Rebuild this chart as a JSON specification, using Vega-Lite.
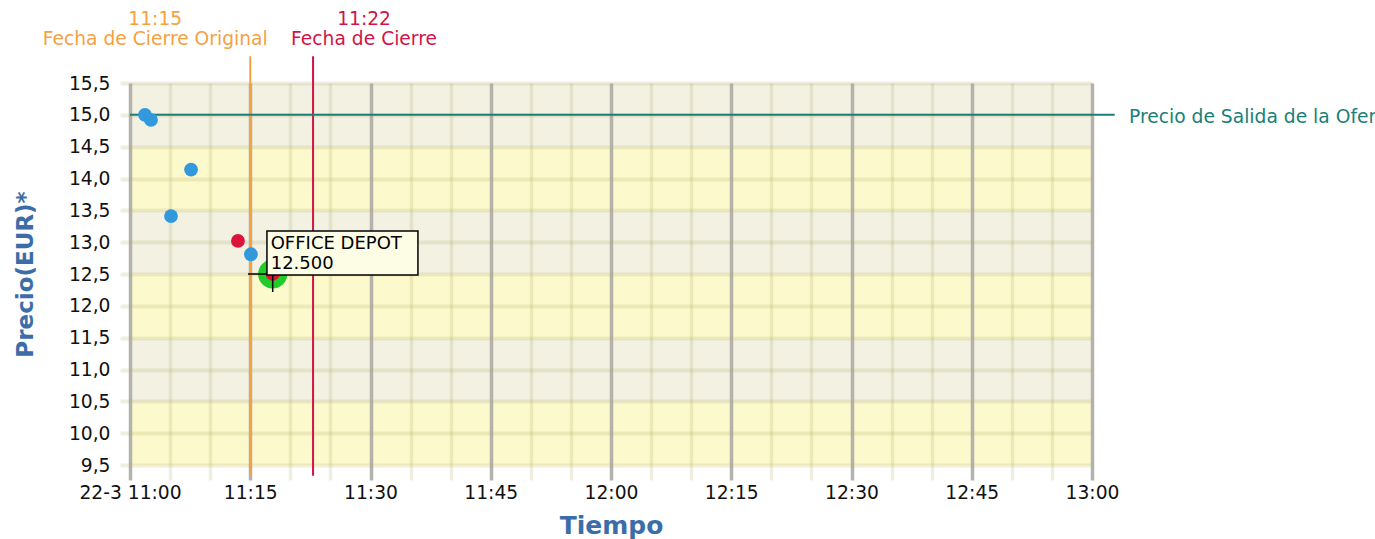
{
  "$schema": "https://vega.github.io/schema/vega-lite/v6.json",
  "width": 962,
  "height": 382,
  "autosize": "none",
  "padding": {"left": 130, "top": 83, "right": 283, "bottom": 74},
  "background": "white",
  "config": {
    "font": "DejaVu Sans",
    "view": {"fill": "#fcf9cc", "stroke": null}
  },
  "datasets": {
    "ofertas": [
      {"hora": "2011-03-22T11:01:52Z", "precio": 15.0, "tipo": "otra", "empresa": "", "destacado": false},
      {"hora": "2011-03-22T11:02:37Z", "precio": 14.92, "tipo": "otra", "empresa": "", "destacado": false},
      {"hora": "2011-03-22T11:05:07Z", "precio": 13.41, "tipo": "otra", "empresa": "", "destacado": false},
      {"hora": "2011-03-22T11:07:37Z", "precio": 14.14, "tipo": "otra", "empresa": "", "destacado": false},
      {"hora": "2011-03-22T11:13:28Z", "precio": 13.02, "tipo": "propia", "empresa": "", "destacado": false},
      {"hora": "2011-03-22T11:15:05Z", "precio": 12.81, "tipo": "otra", "empresa": "", "destacado": false},
      {"hora": "2011-03-22T11:17:48Z", "precio": 12.5, "tipo": "propia", "empresa": "OFFICE DEPOT", "destacado": true}
    ],
    "cierres": [
      {"hora": "2011-03-22T11:15:00Z", "hhmm": "11:15", "etiqueta": "Fecha de Cierre Original", "tipo": "original"},
      {"hora": "2011-03-22T11:22:50Z", "hhmm": "11:22", "etiqueta": "Fecha de Cierre", "tipo": "final"}
    ],
    "uno": [{}]
  },
  "resolve": {"axis": {"x": "independent", "y": "independent"}},
  "layer": [
    {
      "data": {"name": "cierres"},
      "transform": [{"filter": "datum.tipo == 'original'"}],
      "mark": {"type": "rule", "strokeWidth": 2, "color": "#f5a142"},
      "encoding": {
        "x": {"field": "hora", "type": "temporal", "axis": null},
        "y": {"datum": 15.92, "type": "quantitative", "axis": null},
        "y2": {"datum": 9.33}
      }
    },
    {
      "data": {"name": "cierres"},
      "transform": [{"filter": "datum.tipo == 'final'"}],
      "mark": {"type": "rule", "strokeWidth": 2, "color": "#d3124a"},
      "encoding": {
        "x": {"field": "hora", "type": "temporal", "axis": null},
        "y": {"datum": 15.92, "type": "quantitative", "axis": null},
        "y2": {"datum": 9.33}
      }
    },
    {
      "data": {"name": "cierres"},
      "transform": [{"filter": "datum.tipo == 'original'"}],
      "mark": {"type": "text", "align": "center", "baseline": "middle", "fontSize": 18.7, "dx": -95, "dy": -10, "color": "#f5a142"},
      "encoding": {
        "x": {"field": "hora", "type": "temporal", "axis": null},
        "y": {"datum": 16.35, "type": "quantitative", "axis": null},
        "text": {"field": "hhmm"}
      }
    },
    {
      "data": {"name": "cierres"},
      "transform": [{"filter": "datum.tipo == 'original'"}],
      "mark": {"type": "text", "align": "center", "baseline": "middle", "fontSize": 18.7, "dx": -95, "dy": 10, "color": "#f5a142"},
      "encoding": {
        "x": {"field": "hora", "type": "temporal", "axis": null},
        "y": {"datum": 16.35, "type": "quantitative", "axis": null},
        "text": {"field": "etiqueta"}
      }
    },
    {
      "data": {"name": "cierres"},
      "transform": [{"filter": "datum.tipo == 'final'"}],
      "mark": {"type": "text", "align": "center", "baseline": "middle", "fontSize": 18.7, "dx": 51, "dy": -10, "color": "#d3124a"},
      "encoding": {
        "x": {"field": "hora", "type": "temporal", "axis": null},
        "y": {"datum": 16.35, "type": "quantitative", "axis": null},
        "text": {"field": "hhmm"}
      }
    },
    {
      "data": {"name": "cierres"},
      "transform": [{"filter": "datum.tipo == 'final'"}],
      "mark": {"type": "text", "align": "center", "baseline": "middle", "fontSize": 18.7, "dx": 51, "dy": 10, "color": "#d3124a"},
      "encoding": {
        "x": {"field": "hora", "type": "temporal", "axis": null},
        "y": {"datum": 16.35, "type": "quantitative", "axis": null},
        "text": {"field": "etiqueta"}
      }
    },
    {
      "data": {"name": "uno"},
      "mark": {"type": "rule", "strokeWidth": 2, "color": "#1b7f77"},
      "encoding": {
        "x": {"datum": 1300791600000, "type": "temporal", "axis": null},
        "x2": {"datum": 1300798970000},
        "y": {"datum": 15.0, "type": "quantitative", "axis": null}
      }
    },
    {
      "data": {"name": "uno"},
      "mark": {"type": "text", "align": "left", "baseline": "middle", "fontSize": 18.7, "dx": 37, "dy": 2, "color": "#1b7f77"},
      "encoding": {
        "x": {"datum": 1300798800000, "type": "temporal", "axis": null},
        "y": {"datum": 15.0, "type": "quantitative", "axis": null},
        "text": {"value": "Precio de Salida de la Oferta"}
      }
    },
    {
      "data": {"name": "ofertas"},
      "transform": [{"filter": "datum.destacado"}],
      "mark": {"type": "circle", "size": 850, "opacity": 1, "color": "#1fcc2a"},
      "encoding": {
        "x": {
          "field": "hora", "type": "temporal",
          "axis": {
            "orient": "top", "domain": false, "labels": false, "grid": false, "title": null,
            "values": [
              {"year": 2011, "month": 3, "date": 22, "hours": 11, "minutes": 0, "utc": true},
              {"year": 2011, "month": 3, "date": 22, "hours": 11, "minutes": 5, "utc": true},
              {"year": 2011, "month": 3, "date": 22, "hours": 11, "minutes": 10, "utc": true},
              {"year": 2011, "month": 3, "date": 22, "hours": 11, "minutes": 15, "utc": true},
              {"year": 2011, "month": 3, "date": 22, "hours": 11, "minutes": 20, "utc": true},
              {"year": 2011, "month": 3, "date": 22, "hours": 11, "minutes": 25, "utc": true},
              {"year": 2011, "month": 3, "date": 22, "hours": 11, "minutes": 30, "utc": true},
              {"year": 2011, "month": 3, "date": 22, "hours": 11, "minutes": 35, "utc": true},
              {"year": 2011, "month": 3, "date": 22, "hours": 11, "minutes": 40, "utc": true},
              {"year": 2011, "month": 3, "date": 22, "hours": 11, "minutes": 45, "utc": true},
              {"year": 2011, "month": 3, "date": 22, "hours": 11, "minutes": 50, "utc": true},
              {"year": 2011, "month": 3, "date": 22, "hours": 11, "minutes": 55, "utc": true},
              {"year": 2011, "month": 3, "date": 22, "hours": 12, "minutes": 0, "utc": true},
              {"year": 2011, "month": 3, "date": 22, "hours": 12, "minutes": 5, "utc": true},
              {"year": 2011, "month": 3, "date": 22, "hours": 12, "minutes": 10, "utc": true},
              {"year": 2011, "month": 3, "date": 22, "hours": 12, "minutes": 15, "utc": true},
              {"year": 2011, "month": 3, "date": 22, "hours": 12, "minutes": 20, "utc": true},
              {"year": 2011, "month": 3, "date": 22, "hours": 12, "minutes": 25, "utc": true},
              {"year": 2011, "month": 3, "date": 22, "hours": 12, "minutes": 30, "utc": true},
              {"year": 2011, "month": 3, "date": 22, "hours": 12, "minutes": 35, "utc": true},
              {"year": 2011, "month": 3, "date": 22, "hours": 12, "minutes": 40, "utc": true},
              {"year": 2011, "month": 3, "date": 22, "hours": 12, "minutes": 45, "utc": true},
              {"year": 2011, "month": 3, "date": 22, "hours": 12, "minutes": 50, "utc": true},
              {"year": 2011, "month": 3, "date": 22, "hours": 12, "minutes": 55, "utc": true},
              {"year": 2011, "month": 3, "date": 22, "hours": 13, "minutes": 0, "utc": true}
            ],
            "tickSize": -397,
            "tickWidth": 3.5,
            "tickColor": {"condition": {"test": "utcminutes(datum.value) % 15 == 0", "value": "#b3b3ab"}, "value": "rgba(175,170,100,0.2)"}
          }
        },
        "y": {
          "field": "precio", "type": "quantitative",
          "axis": {
            "orient": "right", "domain": false, "labels": false, "grid": false, "title": null,
            "values": [9.5, 10, 10.5, 11, 11.5, 12, 12.5, 13, 13.5, 14, 14.5, 15, 15.5],
            "tickSize": -972,
            "tickWidth": 4,
            "tickColor": "rgba(175,170,100,0.2)"
          }
        }
      }
    },
    {
      "data": {"name": "ofertas"},
      "mark": {"type": "circle", "size": 190, "opacity": 1},
      "encoding": {
        "x": {
          "field": "hora", "type": "temporal",
          "scale": {"type": "utc", "domain": [{"year": 2011, "month": 3, "date": 22, "hours": 11, "minutes": 0, "utc": true}, {"year": 2011, "month": 3, "date": 22, "hours": 13, "minutes": 0, "utc": true}], "nice": false},
          "axis": {
            "orient": "bottom", "domain": false, "ticks": false, "grid": false,
            "values": [
              {"year": 2011, "month": 3, "date": 22, "hours": 11, "minutes": 0, "utc": true},
              {"year": 2011, "month": 3, "date": 22, "hours": 11, "minutes": 15, "utc": true},
              {"year": 2011, "month": 3, "date": 22, "hours": 11, "minutes": 30, "utc": true},
              {"year": 2011, "month": 3, "date": 22, "hours": 11, "minutes": 45, "utc": true},
              {"year": 2011, "month": 3, "date": 22, "hours": 12, "minutes": 0, "utc": true},
              {"year": 2011, "month": 3, "date": 22, "hours": 12, "minutes": 15, "utc": true},
              {"year": 2011, "month": 3, "date": 22, "hours": 12, "minutes": 30, "utc": true},
              {"year": 2011, "month": 3, "date": 22, "hours": 12, "minutes": 45, "utc": true},
              {"year": 2011, "month": 3, "date": 22, "hours": 13, "minutes": 0, "utc": true}
            ],
            "labelExpr": "utchours(datum.value) == 11 && utcminutes(datum.value) == 0 ? '22-3 11:00' : utcFormat(datum.value, '%H:%M')",
            "labelFlush": false, "labelOverlap": false, "labelBound": false,
            "labelFontSize": 18.7, "labelColor": "#111111", "labelPadding": 18,
            "title": "Tiempo", "titleFontSize": 25, "titleFontWeight": "bold", "titleColor": "#3b6ea8", "titlePadding": 12
          }
        },
        "y": {
          "field": "precio", "type": "quantitative",
          "scale": {"domain": [9.5, 15.5], "nice": false, "zero": false},
          "axis": {
            "orient": "left", "domain": false, "ticks": false,
            "values": [9.5, 10, 10.5, 11, 11.5, 12, 12.5, 13, 13.5, 14, 14.5, 15, 15.5],
            "grid": true,
            "gridColor": {"condition": {"test": "datum.value == 15 || datum.value == 13 || datum.value == 11", "value": "#f2f1e2"}, "value": "transparent"},
            "gridWidth": 63.67,
            "labelExpr": "replace(format(datum.value, '.1f'), '.', ',')",
            "labelFontSize": 18.7, "labelColor": "#111111", "labelPadding": 20,
            "title": "Precio(EUR)*", "titleFontSize": 23, "titleFontWeight": "bold", "titleColor": "#3b6ea8", "titlePadding": 31
          }
        },
        "color": {"field": "tipo", "type": "nominal", "scale": {"domain": ["otra", "propia"], "range": ["#3399dd", "#dc143c"]}, "legend": null}
      }
    },
    {
      "data": {"name": "uno"},
      "mark": {"type": "rule", "strokeWidth": 1.5, "color": "#000000"},
      "encoding": {
        "x": {"datum": 1300792483000, "type": "temporal", "axis": null},
        "x2": {"datum": 1300792668000},
        "y": {"datum": 12.5, "type": "quantitative", "axis": null}
      }
    },
    {
      "data": {"name": "uno"},
      "mark": {"type": "rule", "strokeWidth": 1.5, "color": "#000000"},
      "encoding": {
        "x": {"datum": 1300792668000, "type": "temporal", "axis": null},
        "y": {"datum": 12.5, "type": "quantitative", "axis": null},
        "y2": {"datum": 12.217}
      }
    },
    {
      "data": {"name": "uno"},
      "mark": {"type": "rect", "fill": "#fdfde6", "stroke": "#000000", "strokeWidth": 1.5},
      "encoding": {
        "x": {"datum": 1300792625000, "type": "temporal", "axis": null},
        "x2": {"datum": 1300793755000},
        "y": {"datum": 13.175, "type": "quantitative", "axis": null},
        "y2": {"datum": 12.484}
      }
    },
    {
      "data": {"name": "ofertas"},
      "transform": [{"filter": "datum.destacado"}],
      "mark": {"type": "text", "align": "left", "baseline": "middle", "fontSize": 18, "dx": -2, "dy": -30, "color": "#000000"},
      "encoding": {
        "x": {"field": "hora", "type": "temporal", "axis": null},
        "y": {"field": "precio", "type": "quantitative", "axis": null},
        "text": {"field": "empresa"}
      }
    },
    {
      "data": {"name": "ofertas"},
      "transform": [{"filter": "datum.destacado"}],
      "mark": {"type": "text", "align": "left", "baseline": "middle", "fontSize": 18, "dx": -2, "dy": -10, "color": "#000000"},
      "encoding": {
        "x": {"field": "hora", "type": "temporal", "axis": null},
        "y": {"field": "precio", "type": "quantitative", "axis": null},
        "text": {"field": "precio", "format": ".3f"}
      }
    }
  ]
}
